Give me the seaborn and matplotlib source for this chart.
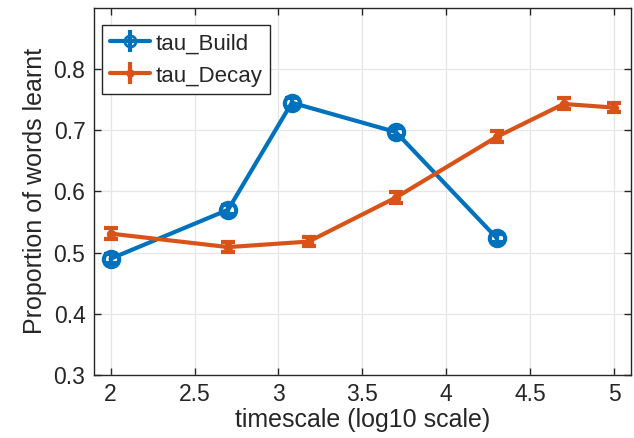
import matplotlib
matplotlib.use("Agg")
import matplotlib.pyplot as plt
import seaborn as sns
import pandas as pd

# timescale (log10) and proportion of words learnt
build_x = [2.0, 2.7, 3.08, 3.7, 4.3]
build_y = [0.490, 0.570, 0.745, 0.697, 0.524]
build_err = [0.007, 0.007, 0.007, 0.007, 0.007]

decay_x = [2.0, 2.7, 3.18, 3.7, 4.3, 4.7, 5.0]
decay_y = [0.531, 0.509, 0.518, 0.590, 0.689, 0.743, 0.737]
decay_err = [0.009, 0.008, 0.007, 0.009, 0.009, 0.009, 0.008]

blue = "#0072BD"
orange = "#D95319"

sns.set_theme(style="whitegrid")
plt.rcParams['font.family'] = ['Liberation Sans', 'DejaVu Sans']

df_build = pd.DataFrame({"x": build_x, "y": build_y})
df_decay = pd.DataFrame({"x": decay_x, "y": decay_y})

fig = plt.figure(figsize=(6.34, 4.38), dpi=100)
ax = fig.add_axes([0.148, 0.144, 0.847, 0.838])

sns.lineplot(data=df_build, x="x", y="y", ax=ax, color=blue, lw=3, marker="o",
             markersize=11, markerfacecolor="none", markeredgecolor=blue,
             markeredgewidth=3, legend=False)
sns.lineplot(data=df_decay, x="x", y="y", ax=ax, color=orange, lw=3, marker="o",
             markersize=6, markerfacecolor=orange, markeredgecolor=orange,
             legend=False)
ax.errorbar(build_x, build_y, yerr=build_err, fmt="none", ecolor=blue,
            elinewidth=3, capsize=5, capthick=3)
ax.errorbar(decay_x, decay_y, yerr=decay_err, fmt="none", ecolor=orange,
            elinewidth=3, capsize=5, capthick=3)

# legend handles with errorbar symbol
h1 = ax.errorbar([], [], yerr=[], fmt="-o", color=blue, lw=3, markersize=8,
                 mfc="none", mew=2, capsize=4, capthick=3, label="tau_Build")
h2 = ax.errorbar([], [], yerr=[], fmt="-o", color=orange, lw=3, markersize=5,
                 capsize=4, capthick=3, label="tau_Decay")
leg = ax.legend(handles=[h1, h2], loc="upper left", fontsize=16, frameon=True,
                fancybox=False, edgecolor="#262626", framealpha=1,
                borderpad=0.35, handlelength=1.8, handletextpad=0.25,
                labelspacing=0.45, borderaxespad=0, handleheight=0.9,
                bbox_to_anchor=(0.016, 0.953))
leg.get_frame().set_linewidth(1.0)

ax.set_xlim(1.9, 5.1)
ax.set_ylim(0.3, 0.9)
ax.set_xticks([2, 2.5, 3, 3.5, 4, 4.5, 5])
ax.set_xticklabels(["2", "2.5", "3", "3.5", "4", "4.5", "5"])
ax.set_yticks([0.3, 0.4, 0.5, 0.6, 0.7, 0.8])
ax.set_yticklabels(["0.3", "0.4", "0.5", "0.6", "0.7", "0.8"])

ax.grid(True, color="#e6e6e6", linewidth=0.9)
for s in ax.spines.values():
    s.set_visible(True)
    s.set_color("#262626")
    s.set_linewidth(1.0)
ax.tick_params(direction="in", length=5, width=1, color="#262626",
               top=True, right=True, bottom=True, left=True,
               labelsize=16.5, labelcolor="#262626", pad=6)

ax.set_xlabel("timescale (log10 scale)", fontsize=18, color="#262626", labelpad=1)
ax.set_ylabel("Proportion of words learnt", fontsize=18, color="#262626", labelpad=5)

fig.savefig("out.png", dpi=100)
